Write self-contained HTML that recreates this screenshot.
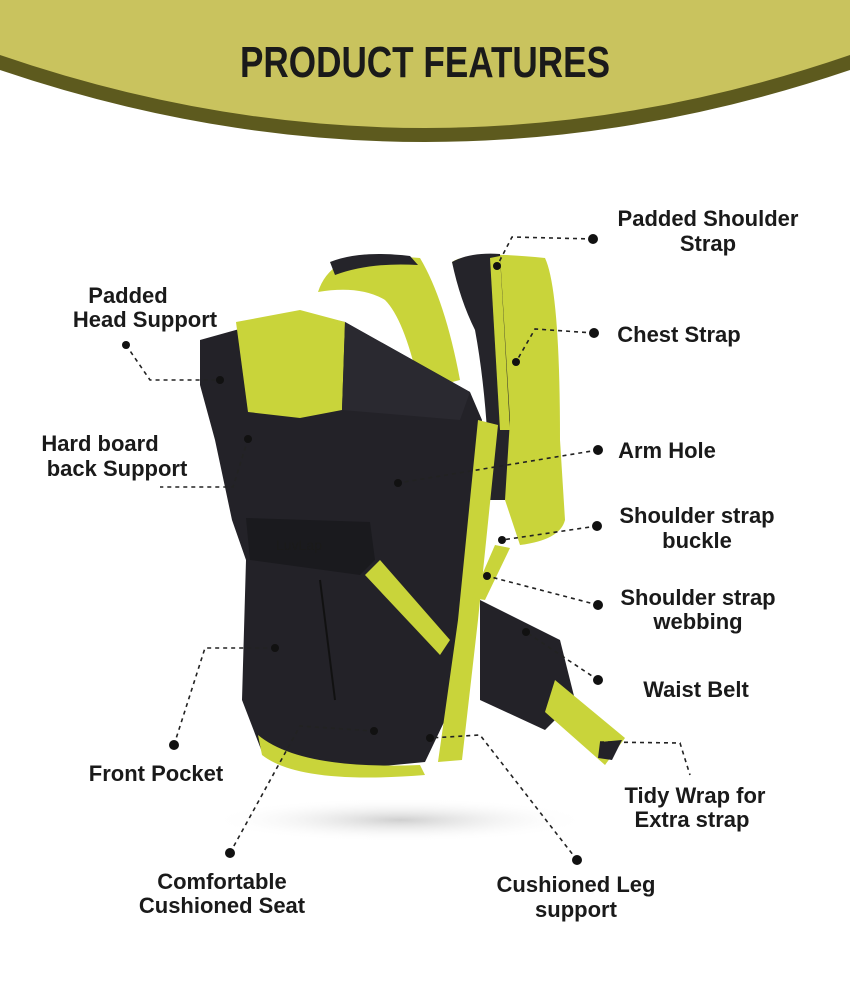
<!DOCTYPE html>
<html><head><meta charset="utf-8"><style>
html,body{margin:0;padding:0;background:#fff;}
svg{display:block}
text{font-family:"Liberation Sans",Arial,sans-serif;font-weight:bold;fill:#1a1a1a;}
.l{font-size:22px;}
.d{stroke:#222;stroke-width:1.6;stroke-dasharray:4 4;fill:none}
</style></head><body>
<svg width="850" height="995" viewBox="0 0 850 995" xmlns="http://www.w3.org/2000/svg">
<defs>
<radialGradient id="sh" cx="0.5" cy="0.5" r="0.5"><stop offset="0" stop-color="#cfcfcf"/><stop offset="1" stop-color="#fff" stop-opacity="0"/></radialGradient>
</defs>
<!-- banner -->
<path d="M0,0 H850 V70 Q425,214 0,70 Z" fill="#5d5a1e"/>
<path d="M0,0 H850 V55 Q425,201 0,55 Z" fill="#c9c35e"/>
<text x="240" y="77" font-size="44" textLength="370" lengthAdjust="spacingAndGlyphs" fill="#231f20">PRODUCT FEATURES</text>

<ellipse cx="400" cy="820" rx="190" ry="22" fill="url(#sh)"/>

<!-- back right strap -->
<path d="M452,262 Q470,250 545,258 Q560,290 560,440 L565,520 Q560,540 520,545 L505,500 Q500,400 478,330 Q462,300 452,262Z" fill="#c9d43a"/>
<path d="M452,262 Q470,252 500,254 L510,420 L505,500 L490,500 Q488,400 475,330 Q460,300 452,262Z" fill="#25242a"/>
<path d="M490,258 L500,256 L510,430 L500,430Z" fill="#c9d43a"/>
<!-- left upper strap -->
<path d="M318,292 Q330,255 380,255 L420,258 Q445,300 460,380 L420,390 Q405,320 385,300 Q360,285 318,292Z" fill="#c9d43a"/>
<path d="M330,262 Q360,250 410,256 L418,265 Q370,262 335,275Z" fill="#25242a"/>
<!-- arm hole yellow -->
<path d="M380,440 L470,410 L480,520 L400,515Z" fill="#c9d43a"/>
<!-- main body dark -->
<path d="M200,340 L300,312 L345,322 L470,392 L482,420 L465,600 L445,720 L425,762 L320,772 L262,752 L242,700 L246,560 L232,520 L215,440 L200,385Z" fill="#232228"/>
<!-- head support -->
<path d="M236,322 L300,310 L345,322 L342,410 L300,418 L248,412Z" fill="#c9d43a"/>
<path d="M345,322 L470,392 L460,420 L342,410Z" fill="#2a2930"/>
<!-- pocket -->
<path d="M246,518 L370,522 L375,560 L360,575 L250,560Z" fill="#1a1a1e"/>
<text x="276" y="550" font-size="14" fill="#eee" style="font-weight:normal">LuvLap</text>
<path d="M320,580 L335,700" stroke="#111" stroke-width="2" fill="none"/>
<!-- side yellow band -->
<path d="M478,420 L498,425 L478,620 L462,760 L438,762 L458,620Z" fill="#c9d43a"/>
<!-- bottom yellow curve -->
<path d="M258,735 Q300,770 420,765 L425,775 Q300,785 262,755Z" fill="#c9d43a"/>
<path d="M365,575 L380,560 L450,640 L440,655Z" fill="#c9d43a"/>
<!-- webbing -->
<path d="M495,545 L510,548 L485,600 L472,598Z" fill="#c9d43a"/>
<!-- waist belt -->
<path d="M480,600 L560,640 L575,700 L545,730 L480,700Z" fill="#232228"/>
<path d="M555,680 L625,738 L605,765 L545,712Z" fill="#c9d43a"/>
<path d="M600,742 L622,740 L612,760 L598,758Z" fill="#232228"/>

<!-- labels -->
<g class="l" text-anchor="middle">
<text x="708" y="226">Padded Shoulder</text><text x="708" y="251">Strap</text>
<text x="128" y="303">Padded</text><text x="145" y="327">Head Support</text>
<text x="679" y="342">Chest Strap</text>
<text x="100" y="451">Hard board</text><text x="117" y="476">back Support</text>
<text x="667" y="458">Arm Hole</text>
<text x="697" y="523">Shoulder strap</text><text x="697" y="548">buckle</text>
<text x="698" y="605">Shoulder strap</text><text x="698" y="629">webbing</text>
<text x="696" y="697">Waist Belt</text>
<text x="156" y="781">Front Pocket</text>
<text x="695" y="803">Tidy Wrap for</text><text x="692" y="827">Extra strap</text>
<text x="222" y="889">Comfortable</text><text x="222" y="913">Cushioned Seat</text>
<text x="576" y="892">Cushioned Leg</text><text x="576" y="917">support</text>
</g>

<!-- connectors -->
<g>
<path class="d" d="M593,239 L512,237 L497,266"/>
<path class="d" d="M126,345 L150,380 L220,380"/>
<path class="d" d="M594,333 L535,329 L516,362"/>
<path class="d" d="M248,439 L233,487 L160,487"/>
<path class="d" d="M598,450 L398,483"/>
<path class="d" d="M597,526 L502,540"/>
<path class="d" d="M598,605 L487,576"/>
<path class="d" d="M598,680 L526,632"/>
<path class="d" d="M174,745 L205,648 L275,648"/>
<path class="d" d="M600,742 L680,743 L690,775"/>
<path class="d" d="M230,853 L300,726 L374,731"/>
<path class="d" d="M577,860 L480,735 L430,738"/>
</g>
<g fill="#111">
<circle cx="593" cy="239" r="5"/><circle cx="497" cy="266" r="4"/>
<circle cx="126" cy="345" r="4"/><circle cx="220" cy="380" r="4"/>
<circle cx="594" cy="333" r="5"/><circle cx="516" cy="362" r="4"/>
<circle cx="248" cy="439" r="4"/>
<circle cx="598" cy="450" r="5"/><circle cx="398" cy="483" r="4"/>
<circle cx="597" cy="526" r="5"/><circle cx="502" cy="540" r="4"/>
<circle cx="598" cy="605" r="5"/><circle cx="487" cy="576" r="4"/>
<circle cx="598" cy="680" r="5"/><circle cx="526" cy="632" r="4"/>
<circle cx="174" cy="745" r="5"/><circle cx="275" cy="648" r="4"/>
<circle cx="230" cy="853" r="5"/><circle cx="374" cy="731" r="4"/>
<circle cx="577" cy="860" r="5"/><circle cx="430" cy="738" r="4"/>
</g>
</svg>
</body></html>
